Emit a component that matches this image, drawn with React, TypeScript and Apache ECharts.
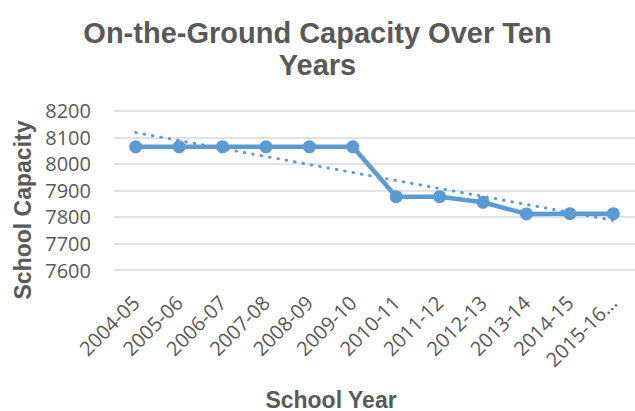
import React, { useEffect, useRef } from "react";
import * as echarts from "echarts";

const categories = [
  "2004-05", "2005-06", "2006-07", "2007-08", "2008-09", "2009-10",
  "2010-11", "2011-12", "2012-13", "2013-14", "2014-15", "2015-16…",
];
const capacity = [8064, 8064, 8064, 8064, 8064, 8064, 7876, 7876, 7855, 7811, 7812, 7812];
const yTicks = { min: 7600, max: 8200, interval: 100 };

function linearTrend(vals: number[]): number[] {
  const n = vals.length;
  const mx = (n - 1) / 2;
  const my = vals.reduce((a, b) => a + b, 0) / n;
  let sxy = 0, sxx = 0;
  vals.forEach((v, i) => { sxy += (i - mx) * (v - my); sxx += (i - mx) * (i - mx); });
  const slope = sxy / sxx;
  return vals.map((_, i) => my + slope * (i - mx));
}

const BLUE = "#5B9BD5";
const TEXT = "#595959";

export default function App() {
  const ref = useRef<HTMLDivElement>(null);
  useEffect(() => {
    if (!ref.current) return;
    const chart = echarts.init(ref.current, null, { renderer: "svg" });
    const trend = linearTrend(capacity);
    chart.setOption({
      animation: false,
      backgroundColor: "#ffffff",
      title: {
        text: "On-the-Ground Capacity Over Ten\nYears",
        left: "center",
        top: 12,
        textStyle: {
          fontFamily: "Liberation Sans, Arial, sans-serif",
          fontSize: 29,
          fontWeight: "bold",
          color: TEXT,
          lineHeight: 32,
        },
      },
      grid: { left: 114, right: -2, top: 110.7, bottom: 141, containLabel: false },
      xAxis: {
        type: "category",
        data: categories,
        boundaryGap: true,
        axisLine: { show: false },
        axisTick: { show: false },
        axisLabel: {
          interval: 0,
          rotate: 45,
          margin: 29,
          fontFamily: "Open Sans, sans-serif",
          fontSize: 20,
          color: TEXT,
        },
      },
      yAxis: {
        type: "value",
        min: yTicks.min,
        max: yTicks.max,
        interval: yTicks.interval,
        axisLine: { show: false },
        axisTick: { show: false },
        splitLine: { lineStyle: { color: "#d9d9d9", width: 1.5 } },
        axisLabel: {
          margin: 23,
          fontFamily: "Open Sans, sans-serif",
          fontSize: 20,
          color: TEXT,
          formatter: (v: number) => String(v),
        },
      },
      graphic: [
        {
          type: "text",
          x: 23,
          y: 210,
          rotation: Math.PI / 2,
          style: {
            text: "School Capacity",
            fontFamily: "Liberation Sans, Arial, sans-serif",
            fontSize: 23,
            fontWeight: "bold",
            fill: TEXT,
            textAlign: "center",
            textVerticalAlign: "middle",
          },
        },
        {
          type: "text",
          x: 331,
          y: 399.5,
          style: {
            text: "School Year",
            fontFamily: "Liberation Sans, Arial, sans-serif",
            fontSize: 23,
            fontWeight: "bold",
            fill: TEXT,
            textAlign: "center",
            textVerticalAlign: "middle",
          },
        },
      ],
      series: [
        {
          name: "Trend",
          type: "line",
          data: trend,
          symbol: "none",
          z: 1,
          lineStyle: { color: BLUE, width: 3, type: [0.5, 8], cap: "round" },
        },
        {
          name: "School Capacity",
          type: "line",
          data: capacity,
          symbol: "circle",
          symbolSize: 13,
          z: 2,
          itemStyle: { color: BLUE },
          lineStyle: { color: BLUE, width: 4.5 },
        },
      ],
    });
    return () => chart.dispose();
  }, []);
  return (
    <div
      ref={ref}
      style={{ position: "fixed", left: 0, top: 0, width: 635, height: 411 }}
    />
  );
}
